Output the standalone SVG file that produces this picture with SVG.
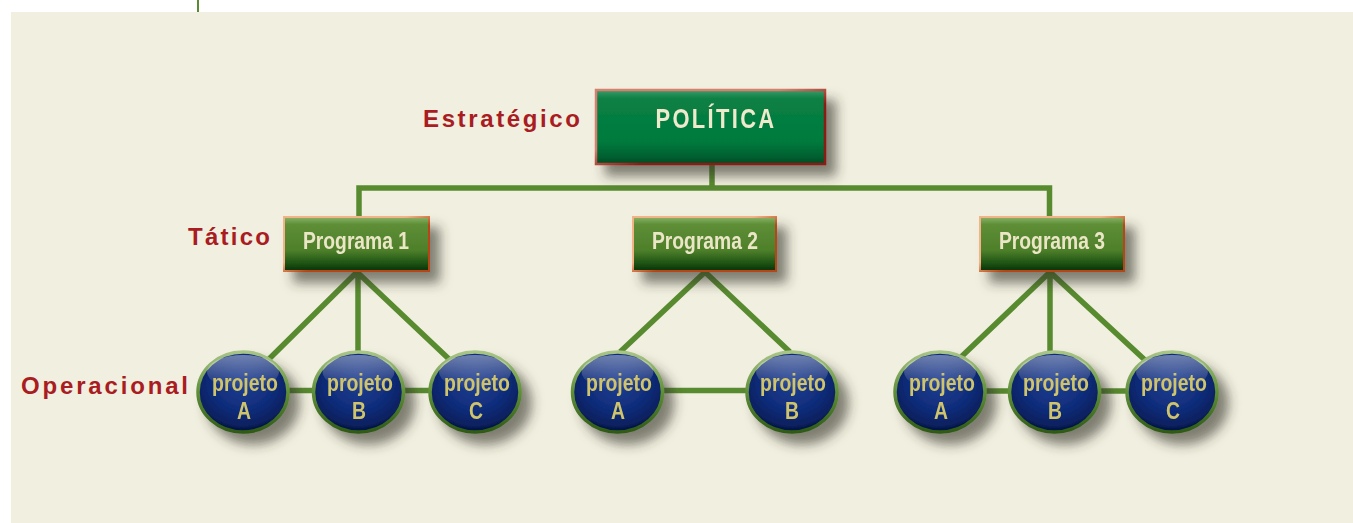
<svg xmlns="http://www.w3.org/2000/svg" width="1353" height="523" viewBox="0 0 1353 523">
<defs>
<filter id="sh" x="-20%" y="-30%" width="160%" height="190%">
<feGaussianBlur in="SourceAlpha" stdDeviation="6"/>
<feOffset dx="10" dy="11" result="b"/>
<feFlood flood-color="#34342a" flood-opacity="0.6"/>
<feComposite in2="b" operator="in"/>
<feMerge><feMergeNode/><feMergeNode in="SourceGraphic"/></feMerge>
</filter>
<linearGradient id="gPol" x1="0" y1="0" x2="0" y2="1">
<stop offset="0" stop-color="#3f9a68"/>
<stop offset="0.12" stop-color="#0a8044"/>
<stop offset="0.7" stop-color="#007a3d"/>
<stop offset="0.9" stop-color="#006030"/>
<stop offset="1" stop-color="#004a22"/>
</linearGradient>
<linearGradient id="bPol" x1="0" y1="0" x2="1" y2="1">
<stop offset="0.4" stop-color="#d88070"/>
<stop offset="0.6" stop-color="#8a1a14"/>
</linearGradient>
<linearGradient id="gProg" x1="0" y1="0" x2="0" y2="1">
<stop offset="0" stop-color="#8ab468"/>
<stop offset="0.14" stop-color="#5e8e36"/>
<stop offset="0.62" stop-color="#4e7f2a"/>
<stop offset="0.85" stop-color="#1f5414"/>
<stop offset="1" stop-color="#063306"/>
</linearGradient>
<linearGradient id="bProg" x1="0" y1="0" x2="1" y2="1">
<stop offset="0.42" stop-color="#f2b486"/>
<stop offset="0.58" stop-color="#b84412"/>
</linearGradient>
<radialGradient id="gCir" cx="0.5" cy="0.38" r="0.6">
<stop offset="0" stop-color="#1f3f92"/>
<stop offset="0.6" stop-color="#0f2c7a"/>
<stop offset="0.9" stop-color="#08205e"/>
<stop offset="1" stop-color="#041440"/>
</radialGradient>
<linearGradient id="hCir" x1="0" y1="0" x2="0" y2="1">
<stop offset="0" stop-color="#ffffff" stop-opacity="0.4"/>
<stop offset="1" stop-color="#ffffff" stop-opacity="0"/>
</linearGradient>
<linearGradient id="bCir" x1="0" y1="0" x2="0" y2="1">
<stop offset="0" stop-color="#a8c488"/>
<stop offset="0.5" stop-color="#5f8f38"/>
<stop offset="1" stop-color="#2f5a16"/>
</linearGradient>
<style>
.lbl{font-family:"Liberation Sans",Arial,sans-serif;font-weight:bold;font-size:24px;fill:#a81c22}
.pol{font-family:"Liberation Sans",Arial,sans-serif;font-weight:bold;font-size:28px;fill:#efe9cd;text-anchor:middle}
.prg{font-family:"Liberation Sans",Arial,sans-serif;font-weight:bold;font-size:23px;fill:#ebe6c6;text-anchor:middle}
.prj{font-family:"Liberation Sans",Arial,sans-serif;font-weight:bold;font-size:24px;fill:#cfc46c;text-anchor:middle}
.con{fill:none;stroke:#588a30;stroke-width:5.5}
.box{fill:url(#gProg);stroke:url(#bProg);stroke-width:2}
.cir{fill:url(#gCir);stroke:url(#bCir);stroke-width:3.5}
</style>
</defs>
<rect x="0" y="0" width="1353" height="523" fill="#ffffff"/>
<rect x="11" y="12" width="1342" height="511" fill="#f1efdf"/>
<rect x="197" y="0" width="2" height="12" fill="#5a8a32"/>

<g id="labels">
<text class="lbl" x="423" y="127" textLength="157" lengthAdjust="spacing">Estratégico</text>
<text class="lbl" x="188" y="245" textLength="82" lengthAdjust="spacing">Tático</text>
<text class="lbl" x="21" y="394" textLength="167" lengthAdjust="spacing">Operacional</text>
</g>

<g id="connectors">
<path class="con" d="M712 165 V188 M359 218 V188 H1049.5 V218"/>
<path class="con" d="M357 272 L268 360 M358 272 V354 M357 272 L450 360 M243 390.5 H475"/>
<path class="con" d="M705 272 L620 352 M705 272 L790 352 M617 390.5 H792"/>
<path class="con" d="M1050 272 L960 358 M1050 272 V354 M1050 272 L1146 361 M940 391 H1172"/>
</g>

<g id="politica" filter="url(#sh)">
<rect x="596" y="90" width="229" height="74" fill="url(#gPol)" stroke="url(#bPol)" stroke-width="2.5"/>
<text class="pol" x="716" y="128" textLength="121" lengthAdjust="spacingAndGlyphs" style="letter-spacing:3px">POLÍTICA</text>
</g>

<g id="programa1" filter="url(#sh)">
<rect class="box" x="284" y="217" width="145" height="54"/>
<text class="prg" x="356" y="249" textLength="106" lengthAdjust="spacingAndGlyphs">Programa 1</text>
</g>
<g id="programa2" filter="url(#sh)">
<rect class="box" x="633" y="217" width="143" height="54"/>
<text class="prg" x="705" y="249" textLength="106" lengthAdjust="spacingAndGlyphs">Programa 2</text>
</g>
<g id="programa3" filter="url(#sh)">
<rect class="box" x="980" y="217" width="144" height="54"/>
<text class="prg" x="1052" y="249" textLength="106" lengthAdjust="spacingAndGlyphs">Programa 3</text>
</g>

<g id="p1a" filter="url(#sh)">
<ellipse class="cir" cx="243" cy="392" rx="45" ry="40"/>
<ellipse cx="243" cy="372" rx="36" ry="17" fill="url(#hCir)"/>
<text class="prj" x="245" y="391" textLength="66" lengthAdjust="spacingAndGlyphs">projeto</text>
<text class="prj" x="244" y="419" textLength="14" lengthAdjust="spacingAndGlyphs">A</text>
</g>
<g id="p1b" filter="url(#sh)">
<ellipse class="cir" cx="358.5" cy="392" rx="45" ry="40"/>
<ellipse cx="358.5" cy="372" rx="36" ry="17" fill="url(#hCir)"/>
<text class="prj" x="360" y="391" textLength="66" lengthAdjust="spacingAndGlyphs">projeto</text>
<text class="prj" x="359" y="419" textLength="14" lengthAdjust="spacingAndGlyphs">B</text>
</g>
<g id="p1c" filter="url(#sh)">
<ellipse class="cir" cx="475" cy="392" rx="45" ry="40"/>
<ellipse cx="475" cy="372" rx="36" ry="17" fill="url(#hCir)"/>
<text class="prj" x="477" y="391" textLength="66" lengthAdjust="spacingAndGlyphs">projeto</text>
<text class="prj" x="476" y="419" textLength="14" lengthAdjust="spacingAndGlyphs">C</text>
</g>

<g id="p2a" filter="url(#sh)">
<ellipse class="cir" cx="617.5" cy="392" rx="45" ry="40"/>
<ellipse cx="617.5" cy="372" rx="36" ry="17" fill="url(#hCir)"/>
<text class="prj" x="619" y="391" textLength="66" lengthAdjust="spacingAndGlyphs">projeto</text>
<text class="prj" x="618" y="419" textLength="14" lengthAdjust="spacingAndGlyphs">A</text>
</g>
<g id="p2b" filter="url(#sh)">
<ellipse class="cir" cx="792" cy="392" rx="45" ry="40"/>
<ellipse cx="792" cy="372" rx="36" ry="17" fill="url(#hCir)"/>
<text class="prj" x="793" y="391" textLength="66" lengthAdjust="spacingAndGlyphs">projeto</text>
<text class="prj" x="792" y="419" textLength="14" lengthAdjust="spacingAndGlyphs">B</text>
</g>

<g id="p3a" filter="url(#sh)">
<ellipse class="cir" cx="940" cy="392" rx="45" ry="40"/>
<ellipse cx="940" cy="372" rx="36" ry="17" fill="url(#hCir)"/>
<text class="prj" x="942" y="391" textLength="66" lengthAdjust="spacingAndGlyphs">projeto</text>
<text class="prj" x="941" y="419" textLength="14" lengthAdjust="spacingAndGlyphs">A</text>
</g>
<g id="p3b" filter="url(#sh)">
<ellipse class="cir" cx="1054.5" cy="392" rx="45" ry="40"/>
<ellipse cx="1054.5" cy="372" rx="36" ry="17" fill="url(#hCir)"/>
<text class="prj" x="1056" y="391" textLength="66" lengthAdjust="spacingAndGlyphs">projeto</text>
<text class="prj" x="1055" y="419" textLength="14" lengthAdjust="spacingAndGlyphs">B</text>
</g>
<g id="p3c" filter="url(#sh)">
<ellipse class="cir" cx="1172" cy="392" rx="45" ry="40"/>
<ellipse cx="1172" cy="372" rx="36" ry="17" fill="url(#hCir)"/>
<text class="prj" x="1174" y="391" textLength="66" lengthAdjust="spacingAndGlyphs">projeto</text>
<text class="prj" x="1173" y="419" textLength="14" lengthAdjust="spacingAndGlyphs">C</text>
</g>
</svg>
